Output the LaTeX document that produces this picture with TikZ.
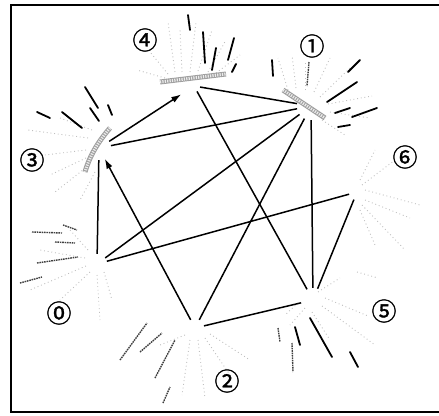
\documentclass[tikz,border=0pt]{standalone}
\usepackage{fontspec}
\newfontfamily\circfont[FakeBold=1.2]{Noto Sans CJK JP}
\usetikzlibrary{arrows.meta}
\begin{document}
\begin{tikzpicture}[x=1pt,y=-1pt,
  vtx/.style={circle,inner sep=0pt,minimum size=#1},
  edge/.style={line width=1.5pt,black},
  arr/.style={edge,-{Latex[length=10pt,width=6.5pt]}},
  lbl/.style={font=\circfont\fontsize{25}{25}\selectfont,inner sep=0pt},
  ray/.style={gray!50,line width=0.9pt,dash pattern=on 0.9pt off 2.8pt},
  streak/.style={black,line width=1.8pt,line cap=round},
  dstreak/.style={black!75,line width=1.4pt,dash pattern=on 1.6pt off 0.8pt},
  barout/.style={line width=5pt,gray!75},
  barin/.style={line width=3pt,gray!15,dash pattern=on 1.2pt off 1.2pt}]
\useasboundingbox (0,0) rectangle (439,415);
% frame
\draw[line width=1.5pt] (439,5) -- (11,5) -- (11,412) -- (439,412);

% rays and streaks (decoration)
% node 4
\foreach \a/\b in {{(165,78)}/{(137,70)},{(168,74)}/{(150,52)},{(175,72)}/{(168,22)},{(182,72)}/{(180,30)},{(190,72)}/{(196,22)},{(198,71)}/{(212,30)},{(208,72)}/{(226,40)},{(216,73)}/{(240,55)}}
  \draw[ray] \a -- \b;
\foreach \a/\b in {{(188,15)}/{(190,30)},{(203,32)}/{(205,63)},{(216,48)}/{(212,70)},{(234,38)}/{(228,60)},{(236,64)}/{(232,72)}}
  \draw[streak] \a -- \b;
% node 1
\foreach \a/\b in {{(288,90)}/{(278,58)},{(296,88)}/{(292,55)},{(305,90)}/{(305,62)},{(314,92)}/{(330,58)},{(320,97)}/{(350,68)},{(328,104)}/{(372,96)},{(330,112)}/{(370,118)},{(322,120)}/{(345,135)}}
  \draw[ray] \a -- \b;
\foreach \a/\b in {{(272,60)}/{(273,76)},{(360,60)}/{(348,72)},{(357,82)}/{(327,102)},{(350,108)}/{(335,113)},{(377,108)}/{(352,117)},{(350,125)}/{(338,127)}}
  \draw[streak] \a -- \b;
\draw[dstreak] (309,62) -- (307,86);
% node 3
\foreach \a/\b in {{(92,130)}/{(60,118)},{(88,138)}/{(28,130)},{(86,150)}/{(45,155)},{(86,158)}/{(50,175)},{(88,166)}/{(55,192)},{(95,172)}/{(80,200)}}
  \draw[ray] \a -- \b;
\foreach \a/\b in {{(85,87)}/{(98,108)},{(37,112)}/{(50,118)},{(62,112)}/{(82,128)},{(90,108)}/{(99,121)},{(108,105)}/{(112,115)}}
  \draw[streak] \a -- \b;
% node 0
\foreach \a/\b in {{(88,250)}/{(70,230)},{(85,258)}/{(40,250)},{(86,266)}/{(30,290)},{(90,272)}/{(60,300)},{(97,275)}/{(100,320)},{(104,272)}/{(112,300)}}
  \draw[ray] \a -- \b;
\foreach \a/\b in {{(32,232)}/{(62,233)},{(55,242)}/{(75,243)},{(63,225)}/{(77,230)},{(37,263)}/{(78,257)},{(20,283)}/{(42,277)}}
  \draw[dstreak] \a -- \b;
% node 2
\foreach \a/\b in {{(185,335)}/{(160,345)},{(190,340)}/{(182,395)},{(198,340)}/{(205,398)},{(205,338)}/{(230,375)},{(210,334)}/{(250,360)}}
  \draw[ray] \a -- \b;
\foreach \a/\b in {{(120,360)}/{(147,323)},{(140,352)}/{(162,333)},{(155,378)}/{(175,340)},{(163,403)}/{(170,387)}}
  \draw[dstreak] \a -- \b;
% node 5
\foreach \a/\b in {{(318,292)}/{(340,278)},{(325,298)}/{(368,316)},{(322,306)}/{(375,345)},{(312,312)}/{(330,340)},{(305,308)}/{(290,325)},{(298,303)}/{(285,315)}}
  \draw[ray] \a -- \b;
\foreach \a/\b in {{(278,328)}/{(280,342)},{(292,343)}/{(293,372)}}
  \draw[dstreak] \a -- \b;
\foreach \a/\b in {{(295,327)}/{(300,345)},{(310,318)}/{(332,357)},{(350,352)}/{(358,367)}}
  \draw[streak] \a -- \b;
% node 6
\foreach \a/\b in {{(365,190)}/{(420,205)},{(365,200)}/{(410,218)},{(362,205)}/{(405,250)},{(360,210)}/{(375,245)},{(362,185)}/{(395,160)},{(360,180)}/{(375,150)},{(357,272)}/{(378,278)}}
  \draw[ray] \a -- \b;

% bars
\draw[barout] (160,82) -- (226,74);
\draw[barin] (160,82) -- (226,74);
\draw[barout] (110,128) .. controls (98,142) and (90,155) .. (85,172);
\draw[barin] (110,128) .. controls (98,142) and (90,155) .. (85,172);
\draw[barout] (283,90) -- (325,118);
\draw[barin] (283,90) -- (325,118);

% vertices
\node[vtx=24pt] (v3) at (99,148) {};
\node[vtx=12pt] (v4) at (194,86) {};
\node[vtx=28pt] (v1) at (311,106) {};
\node[vtx=20pt] (v0) at (97,264) {};
\node[vtx=18pt] (v2) at (195,328) {};
\node[vtx=24pt] (v5) at (313,300) {};
\node[vtx=16pt] (v6) at (357,192) {};

% labels
\node[lbl] (l4) at (145,40) {④};
\node[lbl] (l1) at (312,46) {①};
\node[lbl] (l3) at (32,160) {③};
\node[lbl] (l6) at (405,157) {⑥};
\node[lbl] (l0) at (59,313) {⓪};
\node[lbl] (l2) at (227,381) {②};
\node[lbl] (l5) at (384,311) {⑤};

% edges
\draw[arr,shorten >=9pt] (v3) -- (v4);
\draw[arr] (v2) -- (v3);
\draw[edge] (v4) -- (v1);
\draw[edge] (v3) -- (v1);
\draw[edge] (v3) -- (v0);
\draw[edge] (v0) -- (v1);
\draw[edge] (v0) -- (v6);
\draw[edge] (v4) -- (v5);
\draw[edge] (v2) -- (v1);
\draw[edge] (v1) -- (v5);
\draw[edge] (v6) -- (v5);
\draw[edge] (v2) -- (v5);
\end{tikzpicture}
\end{document}
